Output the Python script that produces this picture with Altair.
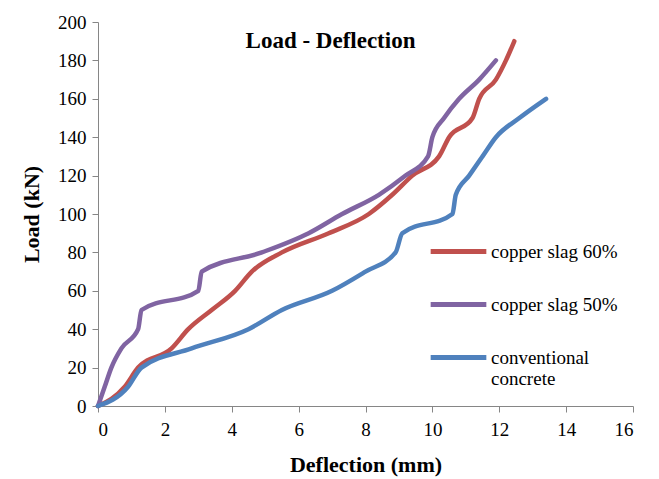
import altair as alt
import pandas as pd

loads_60 = [0, 10, 20, 30, 40, 50, 60, 70, 80, 90, 100, 110, 120, 130, 140, 150, 160, 170, 180, 190]
defl_60 = [0, 0.8, 1.2, 2.2, 2.7, 3.4, 4.1, 4.6, 5.5, 6.9, 8.1, 8.8, 9.4, 10.2, 10.5, 11.2, 11.4, 11.9, 12.2, 12.45]

loads_50 = [0, 10, 20, 30, 40, 50, 60, 70, 80, 90, 100, 110, 120, 130, 140, 150, 160, 170, 180]
defl_50 = [0, 0.2, 0.4, 0.7, 1.2, 1.3, 3.0, 3.1, 4.9, 6.3, 7.3, 8.4, 9.2, 9.87, 10.0, 10.35, 10.8, 11.4, 11.9]

loads_cc = [0, 10, 20, 30, 40, 50, 60, 70, 80, 90, 100, 110, 120, 130, 140, 150, 160]
defl_cc = [0, 0.9, 1.3, 2.8, 4.5, 5.5, 7.0, 8.0, 8.9, 9.1, 10.6, 10.7, 11.1, 11.5, 11.9, 12.6, 13.4]

series = ["copper slag 60%", "copper slag 50%", "conventional concrete"]
colors = ["#C0504D", "#8064A2", "#4F81BD"]

rows = []
for name, xs, ys in [(series[0], defl_60, loads_60), (series[1], defl_50, loads_50), (series[2], defl_cc, loads_cc)]:
    for i, (x, y) in enumerate(zip(xs, ys)):
        rows.append({"series": name, "deflection": x, "load": y, "order": i})
df = pd.DataFrame(rows)

font = "Times New Roman"

chart = alt.Chart(df).mark_line(strokeWidth=4.5, interpolate="monotone", strokeCap="round").encode(
    x=alt.X("deflection:Q", scale=alt.Scale(domain=[0, 16], nice=False),
            axis=alt.Axis(title="Deflection (mm)", values=list(range(0, 17, 2)), grid=False,
                          domainColor="#868686", tickColor="#868686", tickSize=6,
                          labelFont=font, labelFontSize=19, labelColor="black", labelPadding=8,
                          titleFont=font, titleFontSize=22, titleFontWeight="bold", titleColor="black",
                          titlePadding=15)),
    y=alt.Y("load:Q", scale=alt.Scale(domain=[0, 200], nice=False),
            axis=alt.Axis(title="Load (kN)", values=list(range(0, 201, 20)), grid=False,
                          domainColor="#868686", tickColor="#868686", tickSize=6,
                          labelFont=font, labelFontSize=19, labelColor="black", labelPadding=6,
                          titleFont=font, titleFontSize=22, titleFontWeight="bold", titleColor="black",
                          titlePadding=14)),
    color=alt.Color("series:N", scale=alt.Scale(domain=series, range=colors),
                    legend=alt.Legend(title=None, orient="none", legendX=330, legendY=199,
                                      symbolType="stroke", symbolSize=3100, symbolStrokeWidth=5,
                                      labelFont=font, labelFontSize=19, labelColor="black",
                                      rowPadding=12, labelOffset=2, labelLimit=300,
                                      labelExpr="datum.label == 'conventional concrete' ? ['conventional', 'concrete'] : datum.label")),
    order="order:Q",
).properties(
    width=535, height=384,
    title=alt.TitleParams("Load - Deflection", font=font, fontSize=23, fontWeight="bold",
                          color="black", anchor="middle", dx=-35, offset=-40),
).configure_view(stroke=None).properties(
    autosize=alt.AutoSizeParams(type="none"),
    padding={"left": 98, "top": 22, "right": 26, "bottom": 73},
)

chart.save("out.html", embed_options={"renderer": "svg", "actions": False})
